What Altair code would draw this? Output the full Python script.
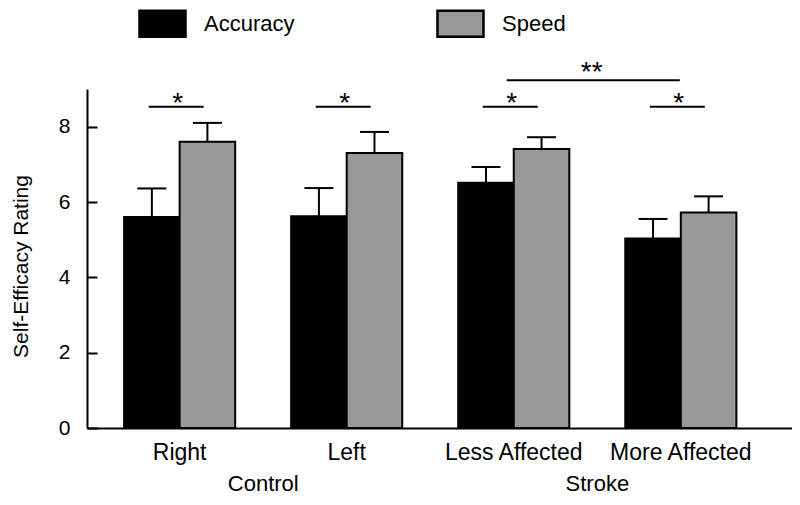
import altair as alt
import pandas as pd

groups = ["Right", "Left", "Less Affected", "More Affected"]
conditions = ["Accuracy", "Speed"]
accuracy_mean = [5.60, 5.62, 6.51, 5.03]
speed_mean = [7.60, 7.30, 7.41, 5.72]
accuracy_sem = [0.76, 0.75, 0.42, 0.52]
speed_sem = [0.50, 0.56, 0.31, 0.43]

pair_sig_y = [8.53, 8.53, 8.53, 8.53]
pair_star_y = [8.38, 8.38, 8.38, 8.38]
pair_star_text = ["*", "*", "*", "*"]

between_from = ["Less Affected"]
between_to = ["More Affected"]
between_y = [9.23]
between_star_y = [9.22]
between_star_text = ["**"]

group_labels = ["Control", "Stroke"]
group_label_anchor = ["Right", "Less Affected"]

y_ticks = [0, 2, 4, 6, 8]
colors = ["#000000", "#999999"]
FONT = "Liberation Sans"

rows = []
for i, g in enumerate(groups):
    rows.append({"group": g, "condition": "Accuracy", "mean": accuracy_mean[i],
                 "upper": accuracy_mean[i] + accuracy_sem[i]})
    rows.append({"group": g, "condition": "Speed", "mean": speed_mean[i],
                 "upper": speed_mean[i] + speed_sem[i]})
bars_df = pd.DataFrame(rows)
pair_df = pd.DataFrame({"group": groups, "y": pair_sig_y, "sy": pair_star_y, "t": pair_star_text})
between_df = pd.DataFrame({"group": between_from, "group2": between_to, "y": between_y,
                           "sy": between_star_y, "t": between_star_text})
glabel_df = pd.DataFrame({"group": group_label_anchor, "label": group_labels})

x_enc = alt.X(
    "group:N", sort=groups,
    scale=alt.Scale(domain=groups, paddingInner=0.335, paddingOuter=0.2775, align=0.4),
    axis=alt.Axis(title=None, labelFontSize=23, ticks=False, domainWidth=2, domainColor="black",
                  labelColor="black", labelPadding=13, labelAngle=0, labelFont=FONT),
)
xoff = alt.XOffset("condition:N", sort=conditions,
                   scale=alt.Scale(domain=conditions, paddingInner=0, paddingOuter=0))
y_scale = alt.Scale(domain=[0, 9], nice=False, zero=True)

bars = alt.Chart(bars_df).mark_bar(stroke="black", strokeWidth=2, opacity=1).encode(
    x=x_enc,
    xOffset=xoff,
    y=alt.Y("mean:Q", scale=y_scale,
            axis=alt.Axis(values=y_ticks, ticks=False, grid=False, labelFontSize=21, labelPadding=17,
                          domainWidth=2, domainColor="black", labelColor="black",
                          title="Self-Efficacy Rating", titleFontSize=21, titleFontWeight="normal",
                          titleColor="black", titlePadding=27, titleY=177, orient="left")),
    fill=alt.Fill("condition:N", sort=conditions,
                  scale=alt.Scale(domain=conditions, range=colors),
                  legend=alt.Legend(title=None, orient="none", legendX=51, legendY=-90,
                                    direction="horizontal",
                                    symbolType="M-1,-0.565H1V0.565H-1Z", symbolSize=2116,
                                    symbolStrokeColor="black", symbolStrokeWidth=2.5,
                                    symbolOpacity=1,
                                    labelFontSize=22, labelOffset=17, columnPadding=137,
                                    labelFont=FONT, labelColor="black")),
)

err = alt.Chart(bars_df).mark_rule(color="black", strokeWidth=2).encode(
    x=x_enc,
    xOffset=xoff,
    y=alt.Y("mean:Q", scale=y_scale,
            axis=alt.Axis(orient="left", values=y_ticks, domain=False, labels=False, ticks=True,
                          tickSize=10, tickWidth=2, tickColor="black", offset=-10,
                          title=None, grid=False)),
    y2="upper:Q",
)

caps = alt.Chart(bars_df).mark_tick(color="black", thickness=2, size=29, opacity=1).encode(
    x=x_enc,
    xOffset=xoff,
    y=alt.Y("upper:Q", scale=y_scale, axis=None),
)

pair_lines = alt.Chart(pair_df).mark_tick(color="black", thickness=2, size=55, xOffset=-3.5, opacity=1).encode(
    x=x_enc,
    y=alt.Y("y:Q", scale=y_scale, axis=None),
)
pair_stars = alt.Chart(pair_df).mark_text(fontSize=28, baseline="alphabetic", color="black",
                                           font=FONT, dx=-2).encode(
    x=x_enc,
    y=alt.Y("sy:Q", scale=y_scale, axis=None),
    text="t:N",
)

between_line = alt.Chart(between_df).mark_rule(color="black", strokeWidth=2, xOffset=-7, x2Offset=-1).encode(
    x=x_enc,
    x2="group2:N",
    y=alt.Y("y:Q", scale=y_scale, axis=None),
)
between_star = alt.Chart(between_df).mark_text(fontSize=28, baseline="alphabetic", color="black",
                                               font=FONT, dx=78).encode(
    x=x_enc,
    y=alt.Y("sy:Q", scale=y_scale, axis=None),
    text="t:N",
)

glabels = alt.Chart(glabel_df).mark_text(fontSize=22, baseline="alphabetic", color="black",
                                         font=FONT, dx=83.6).encode(
    x=x_enc,
    y=alt.value(402),
    text="label:N",
)

chart = alt.layer(
    bars, err, caps, pair_lines, pair_stars, between_line, between_star, glabels
).resolve_axis(y="independent").properties(
    width=705, height=339,
    padding={"left": 79, "top": 81, "right": 0, "bottom": 69},
    autosize=alt.AutoSizeParams(type="none"),
    background="white",
).configure(font=FONT).configure_view(stroke=None)

chart.save("out.html", embed_options={"renderer": "svg", "actions": False})
